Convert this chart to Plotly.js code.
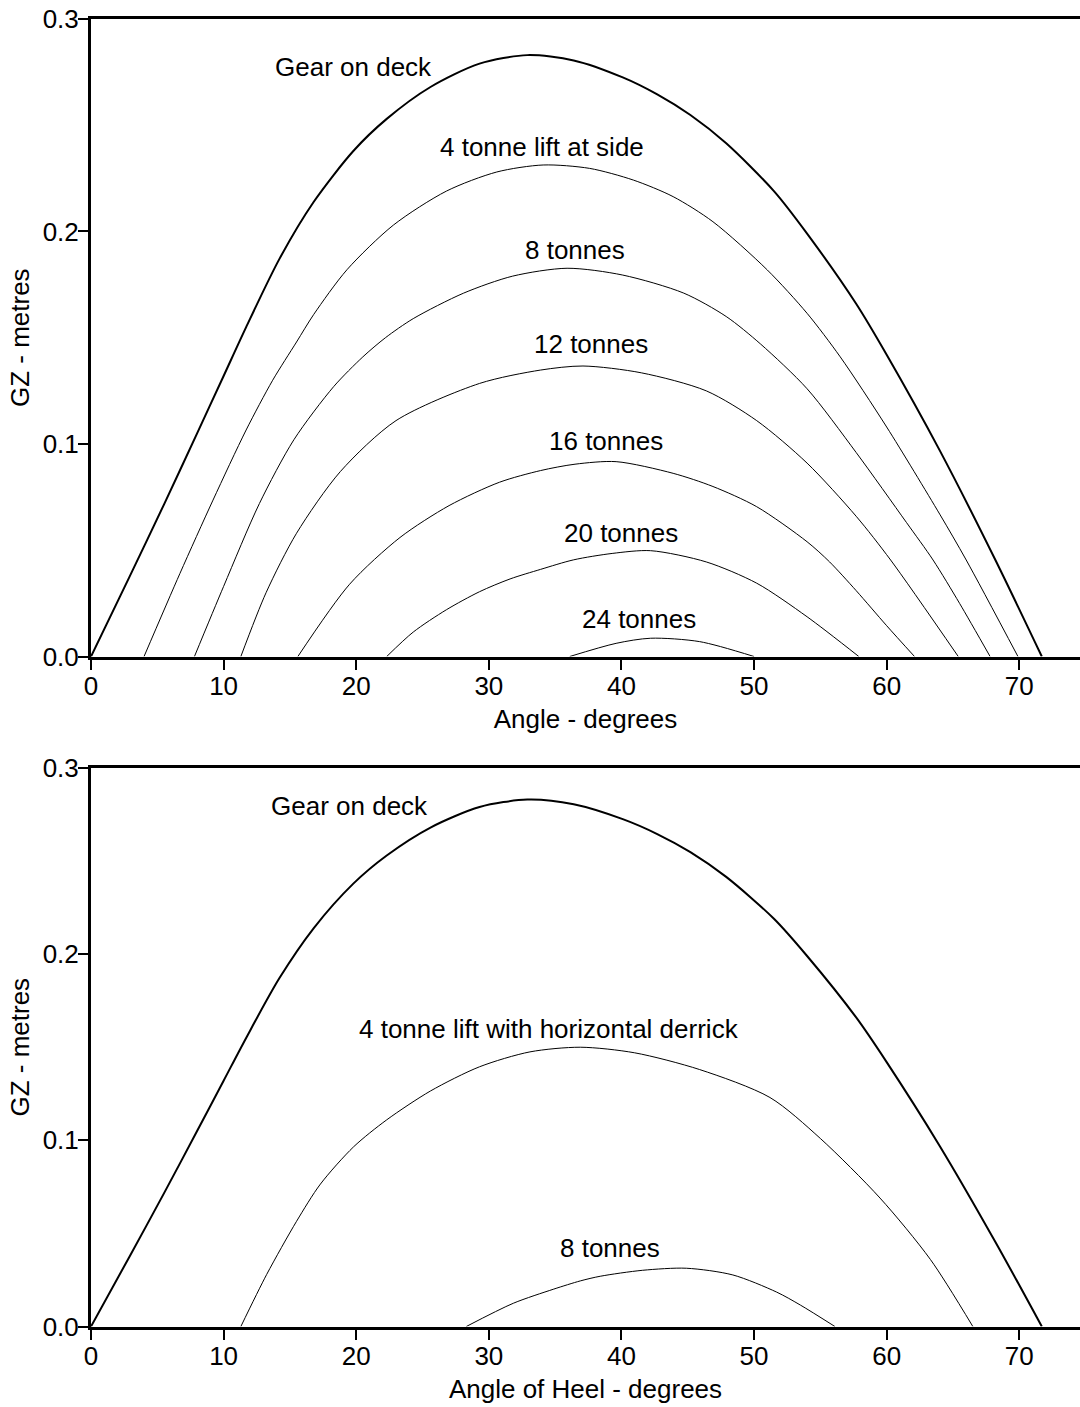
<!DOCTYPE html>
<html><head><meta charset="utf-8">
<script src="https://cdn.plot.ly/plotly-3.0.1.min.js"></script>
<style>html,body{margin:0;padding:0;background:#fff}#chart{width:1080px;height:1407px}</style>
</head><body><div id="chart"></div>
<script>
// ---- Top chart: lift at side ----
const gearAngle = [0, 2.9, 5.5, 8.0, 10.0, 11.7, 14.2, 16.8, 19.8, 22.3, 25.6, 29.3, 32.9, 36.4, 40.1, 42.7, 45.2, 47.9, 51.5, 54.0, 57.7, 60.0, 64.0, 68.2, 71.7];
const gearGZ    = [0, 0.0375, 0.0715, 0.105, 0.132, 0.155, 0.187, 0.214, 0.238, 0.253, 0.268, 0.279, 0.283, 0.2805, 0.2725, 0.2645, 0.2548, 0.2415, 0.219, 0.199, 0.166, 0.142, 0.097, 0.0454, 0];

const side4Angle = [4.0, 6.7, 9.2, 11.7, 13.7, 15.5, 16.8, 19.3, 22.8, 26.8, 30.6, 34.1, 37.6, 40.9, 43.9, 46.9, 51.0, 54.0, 56.5, 60.0, 64.0, 66.0, 69.9];
const side4GZ    = [0, 0.039, 0.0736, 0.1066, 0.130, 0.148, 0.161, 0.182, 0.203, 0.219, 0.228, 0.2313, 0.2297, 0.2242, 0.2164, 0.2046, 0.1819, 0.1615, 0.141, 0.108, 0.067, 0.0454, 0];

const side8Angle = [7.8, 10.0, 12.7, 15.3, 18.3, 20.5, 22.2, 24.3, 28.1, 31.8, 35.9, 40.1, 44.7, 47.9, 50.5, 54.0, 57.7, 61.5, 63.5, 65.5, 67.8];
const side8GZ    = [0, 0.033, 0.072, 0.102, 0.127, 0.141, 0.150, 0.159, 0.171, 0.179, 0.1827, 0.1795, 0.171, 0.160, 0.147, 0.126, 0.096, 0.063, 0.0454, 0.025, 0];

const side12Angle = [11.3, 13.2, 15.5, 18.8, 23.0, 29.3, 33.9, 37.1, 41.5, 46.4, 50.2, 54.0, 57.7, 60.3, 65.4];
const side12GZ    = [0, 0.030, 0.058, 0.087, 0.111, 0.1285, 0.1348, 0.1367, 0.1335, 0.125, 0.111, 0.091, 0.066, 0.0454, 0];

const side16Angle = [15.6, 19.5, 23.3, 27.0, 30.8, 33.9, 36.5, 39.6, 43.9, 46.9, 50.2, 54.0, 55.7, 57.7, 60.0, 62.1];
const side16GZ    = [0, 0.034, 0.056, 0.071, 0.082, 0.0875, 0.0905, 0.0917, 0.0862, 0.080, 0.0705, 0.054, 0.0445, 0.031, 0.0145, 0];

const side20Angle = [22.3, 24.3, 26.8, 29.3, 31.6, 33.9, 36.4, 39.3, 42.2, 46.4, 50.2, 54.0, 57.9];
const side20GZ    = [0, 0.0115, 0.022, 0.0305, 0.0365, 0.041, 0.0455, 0.0485, 0.0498, 0.0445, 0.0345, 0.0187, 0];

const side24Angle = [36.1, 39.6, 42.2, 45.9, 50.0];
const side24GZ    = [0, 0.0062, 0.0086, 0.007, 0];

// ---- Bottom chart: horizontal derrick ----
const derrick4Angle = [11.3, 13.25, 15.5, 17.3, 19.8, 22.3, 25.6, 29.3, 33.1, 36.9, 41.0, 45.9, 51.2, 55.0, 59.5, 63.3, 66.5];
const derrick4GZ    = [0, 0.028, 0.0565, 0.0765, 0.0965, 0.111, 0.1265, 0.1395, 0.1475, 0.150, 0.147, 0.138, 0.123, 0.101, 0.069, 0.036, 0];

const derrick8Angle = [28.3, 31.85, 34.9, 36.9, 38.4, 41.6, 44.9, 48.4, 51.7, 53.5, 56.1];
const derrick8GZ    = [0, 0.0125, 0.0201, 0.0245, 0.027, 0.0302, 0.0313, 0.0277, 0.0185, 0.0115, 0];

// ---- Labels ----
const topLabels = ["Gear on deck", "4 tonne lift at side", "8 tonnes", "12 tonnes", "16 tonnes", "20 tonnes", "24 tonnes"];
const topLabelAngle = [19.8, 34.0, 36.5, 37.7, 38.8, 40.0, 41.3];
const topLabelGZ = [0.2774, 0.2398, 0.1913, 0.147, 0.1014, 0.0581, 0.0176];
const bottomLabels = ["Gear on deck", "4 tonne lift with horizontal derrick", "8 tonnes"];
const bottomLabelAngle = [19.5, 34.5, 39.1];
const bottomLabelGZ = [0.2796, 0.1598, 0.0422];

const xTicks = [0, 10, 20, 30, 40, 50, 60, 70];
const yTicks = [0, 0.1, 0.2, 0.3];

const FONT = "Liberation Sans, Arial, sans-serif";
const FS = 26;

function line(x, y, xa, ya, w) {
  return {x: x, y: y, xaxis: xa, yaxis: ya, type: 'scatter', mode: 'lines',
          line: {color: '#000', width: w, shape: 'spline', smoothing: 0.8},
          hoverinfo: 'skip', showlegend: false};
}

const traces = [
  line(gearAngle, gearGZ, 'x', 'y', 2),
  line(side4Angle, side4GZ, 'x', 'y', 1),
  line(side8Angle, side8GZ, 'x', 'y', 1),
  line(side12Angle, side12GZ, 'x', 'y', 1),
  line(side16Angle, side16GZ, 'x', 'y', 1),
  line(side20Angle, side20GZ, 'x', 'y', 1),
  line(side24Angle, side24GZ, 'x', 'y', 1),
  line(gearAngle, gearGZ, 'x2', 'y2', 2),
  line(derrick4Angle, derrick4GZ, 'x2', 'y2', 1),
  line(derrick8Angle, derrick8GZ, 'x2', 'y2', 1)
];

const annotations = [];
topLabels.forEach((t, i) => annotations.push({text: t, x: topLabelAngle[i], y: topLabelGZ[i], xref: 'x', yref: 'y',
  showarrow: false, xanchor: 'center', yanchor: 'middle', font: {family: FONT, size: FS, color: '#000'}}));
bottomLabels.forEach((t, i) => annotations.push({text: t, x: bottomLabelAngle[i], y: bottomLabelGZ[i], xref: 'x2', yref: 'y2',
  showarrow: false, xanchor: 'center', yanchor: 'middle', font: {family: FONT, size: FS, color: '#000'}}));

function xAxis(title, anchor) {
  return {anchor: anchor, domain: [0, 1], range: [0, 74.58], tickvals: xTicks, ticktext: xTicks.map(String),
    showline: true, linecolor: '#000', linewidth: 3, mirror: true,
    ticks: 'outside', ticklen: 10, tickwidth: 2, tickcolor: '#000', ticklabelstandoff: -6,
    showgrid: false, zeroline: false, tickfont: {family: FONT, size: FS, color: '#000'},
    title: {text: title, font: {family: FONT, size: FS, color: '#000'}, standoff: 11}};
}
function yAxis(domain, anchor) {
  return {anchor: anchor, domain: domain, range: [0, 0.3], tickvals: yTicks, ticktext: yTicks.map(v => v.toFixed(1)),
    showline: true, linecolor: '#000', linewidth: 3, mirror: false,
    ticks: 'outside', ticklen: 10, tickwidth: 2, tickcolor: '#000', ticklabelstandoff: -6,
    showgrid: false, zeroline: false, tickfont: {family: FONT, size: FS, color: '#000'},
    title: {text: 'GZ - metres', font: {family: FONT, size: FS, color: '#000'}, standoff: 6}};
}

const layout = {
  width: 1080, height: 1407,
  margin: {l: 91, r: 0, t: 0, b: 0},
  paper_bgcolor: '#fff', plot_bgcolor: '#fff',
  font: {family: FONT, color: '#000'},
  showlegend: false,
  xaxis: xAxis('Angle - degrees', 'y'),
  yaxis: yAxis([0.5334, 0.9865], 'x'),
  xaxis2: xAxis('Angle of Heel - degrees', 'y2'),
  yaxis2: yAxis([0.0572, 0.4542], 'x2'),
  annotations: annotations
};

Plotly.newPlot('chart', traces, layout, {displayModeBar: false, staticPlot: true});
</script>
</body></html>
